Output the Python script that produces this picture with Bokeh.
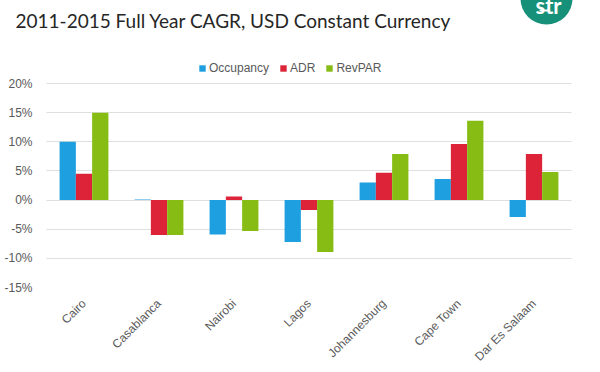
import math
from bokeh.plotting import figure
from bokeh.models import (FactorRange, Range1d, FixedTicker, PrintfTickFormatter,
                          Legend, LegendItem, ColumnDataSource)
from bokeh.transform import dodge
from bokeh.core.properties import value
from bokeh.embed import file_html
from bokeh.resources import INLINE

# ---- data (percent CAGR) ----
cities = ["Cairo", "Casablanca", "Nairobi", "Lagos", "Johannesburg", "Cape Town", "Dar Es Salaam"]
occupancy = [10.0, 0.1, -5.9, -7.2, 3.0, 3.6, -2.9]
adr = [4.5, -6.0, 0.6, -1.7, 4.7, 9.6, 7.9]
revpar = [15.0, -6.0, -5.3, -8.9, 7.9, 13.6, 4.8]
series_names = ["Occupancy", "ADR", "RevPAR"]
y_ticks = [-15, -10, -5, 0, 5, 10, 15, 20]
subtitle = "2011-2015 Full Year CAGR, USD Constant Currency"
logo_text = "str"

colors = ["#1E9FE0", "#DC2338", "#86BC14"]
FONT = "Liberation Sans"
FW, FH = 525, 280          # frame covers the header area too
FRAME_LEFT_PAGE = 50
FRAME_TOP_PAGE = 15
PX_PER_PCT = 204 / 35.0
Y_TOP = 20 + 76 / PX_PER_PCT
PX_PER_CAT = FW / len(cities)


def cx(page_x):
    """page pixel x -> synthetic categorical coordinate"""
    return (page_x - FRAME_LEFT_PAGE) / PX_PER_CAT


def cy(page_y):
    """page pixel y -> header coordinate (pixels below frame top)"""
    return page_y - FRAME_TOP_PAGE


src = ColumnDataSource(dict(city=cities, occ=occupancy, adr=adr, rev=revpar))
p = figure(frame_width=FW, frame_height=FH, x_range=FactorRange(*cities),
           y_range=Range1d(-15, Y_TOP),
           output_backend="svg", toolbar_location=None,
           min_border_left=46, min_border_right=13, min_border_top=7, min_border_bottom=76)
p.outline_line_color = None
p.extra_y_ranges = {"py": Range1d(FH, 0)}

bw = 0.217
renderers = []
for off, col, c in zip([-bw, 0, bw], ["occ", "adr", "rev"], colors):
    r = p.vbar(x=dodge("city", off, range=p.x_range), top=col, bottom=0, width=bw,
               source=src, fill_color=c, line_color=None)
    renderers.append(r)

p.yaxis.ticker = FixedTicker(ticks=y_ticks)
p.yaxis.formatter = PrintfTickFormatter(format="%d%%")
for ax in (p.xaxis[0], p.yaxis[0]):
    ax.axis_line_color = None
    ax.major_tick_line_color = None
    ax.minor_tick_line_color = None
    ax.major_label_text_font = FONT
    ax.major_label_text_font_size = "12px"
    ax.major_label_text_color = "#595959"
p.yaxis.major_label_standoff = 8
p.xaxis.major_label_orientation = math.pi / 4
p.xaxis.major_label_standoff = 8
p.xgrid.grid_line_color = None
p.ygrid.grid_line_color = "#BFBFBF"
p.ygrid.grid_line_dash = "1 1"
p.ygrid.grid_line_width = 1

legend = Legend(items=[LegendItem(label=n, renderers=[r]) for n, r in zip(series_names, renderers)],
                orientation="horizontal", location=(152, 212), margin=0, padding=2,
                spacing=10, glyph_width=8, glyph_height=8, label_standoff=3,
                label_text_font=FONT, label_text_font_size="12px", label_text_color="#595959",
                border_line_color=None, background_fill_alpha=0)
p.add_layout(legend)

# header: subtitle and logo
p.text(x=[cx(19)], y=[cy(28.3)], text=[subtitle], text_font=value("Lato"), text_font_size="19px",
       text_color="#262626", text_baseline="alphabetic", text_align="left",
       y_range_name="py", level="overlay")
p.scatter(x=[cx(550)], y=[cy(6)], marker="circle", size=52, fill_color="#17907A", line_color=None,
          y_range_name="py", level="overlay")
p.text(x=[cx(552)], y=[cy(13)], text=[logo_text], text_font=value("Lato"), text_font_size="22px",
       text_font_style="bold", text_color="white", text_align="center",
       text_baseline="alphabetic", y_range_name="py", level="overlay")
p.segment(x0=[cx(543)], y0=[cy(18)], x1=[cx(552)], y1=[cy(18)], line_color="white", line_width=2,
          y_range_name="py", level="overlay")

open("out.html", "w").write(file_html(p, INLINE))
